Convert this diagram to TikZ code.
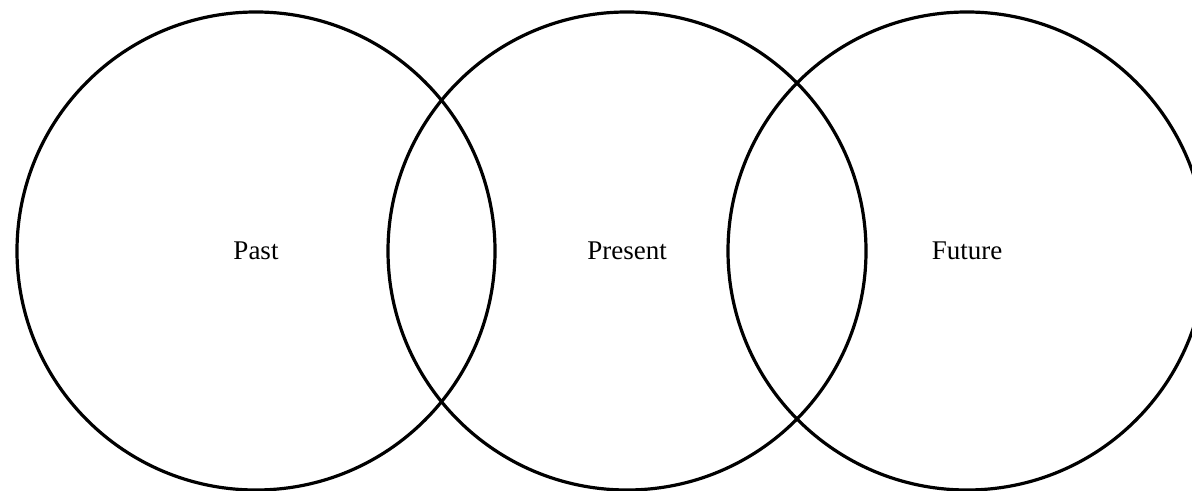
\documentclass[tikz,border=0pt]{standalone}
\usepackage{fontspec}
\setmainfont{Liberation Serif}
\begin{document}
\begin{tikzpicture}[x=0.5pt, y=-0.5pt,
        ring/.style={circle, draw=black, line width=1.6pt, inner sep=0pt,
            minimum size=239pt, font=\fontsize{13.5}{16}\selectfont}]
        \useasboundingbox (0,0) rectangle (1192,491);
        \clip (0,0) rectangle (1192,491);
        \foreach \name/\cx/\lbl in {past/256/Past, present/627/Present, future/967/Future}{
            \node[ring] (\name) at (\cx,251) {\lbl};}
    \end{tikzpicture}
\end{document}
